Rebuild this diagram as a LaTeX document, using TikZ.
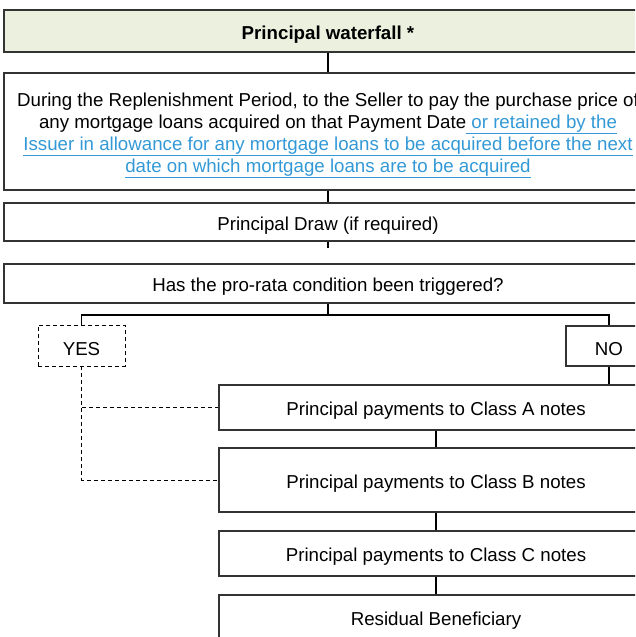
\documentclass[tikz,border=0pt]{standalone}
\usepackage{fontspec}
\setmainfont{Liberation Sans}
\usetikzlibrary{positioning}
\definecolor{headfill}{RGB}{235,241,222}
\definecolor{linkblue}{RGB}{51,153,214}
\definecolor{boxline}{RGB}{51,51,51}
\newcommand{\linktext}[1]{\textcolor{linkblue}{\setbox0\hbox{#1}\rlap{\rule[-5.2pt]{\wd0}{1.3pt}}\box0}}

\begin{document}
\begin{tikzpicture}[x=1pt, y=-1pt, inner sep=0pt,
   box/.style={draw=boxline, line width=1.1pt, minimum width=648pt, align=center,
     font=\fontsize{18.7}{22}\selectfont, execute at begin node={\rule{0pt}{20pt}}},
   head/.style={box, fill=headfill, font=\fontsize{18.7}{22}\selectfont\bfseries},
   pay/.style={box, minimum width=434pt},
   choice/.style={box, minimum width=87pt, minimum height=41pt},
   conn/.style={draw=black, line width=1.1pt},
   heavy/.style={conn, line width=1.8pt},
   maybe/.style={draw=black, line width=0.9pt, dash pattern=on 4pt off 3pt}
   ]
   \useasboundingbox (0,0) rectangle (635,637);
   \clip (0,0) rectangle (635,637);

   \node[head, minimum height=42pt] (T) at (328,31) {Principal waterfall *};
   \node[box, minimum height=117pt] (D) at (328,131.5)
     {\rule{0pt}{22pt}During the Replenishment Period, to the Seller to pay the purchase price of\\
      any mortgage loans acquired on that Payment Date\linktext{\ or retained by the}\\
      \linktext{Issuer in allowance for any mortgage loans to be acquired before the next}\\
      \linktext{date on which mortgage loans are to be acquired}};
   \node[box, minimum height=38pt] (P) at (328,222) {Principal Draw (if required)};
   \node[box, minimum height=39pt] (Q) at (328,283.5) {Has the pro-rata condition been triggered?};

   \node[choice, maybe] (Y) at (81.5,345.5) {YES};
   \node[choice, minimum width=86pt, minimum height=40pt] (N) at (609,346) {NO};

   \node[pay, minimum height=45pt] (A) at (436,407.5) {Principal payments to Class A notes};
   \node[pay, minimum height=64pt] (B) at (436,480) {Principal payments to Class B notes};
   \node[pay, minimum height=45pt] (C) at (436,553.5) {Principal payments to Class C notes};
   \node[pay, minimum height=45pt] (R) at (436,617.5) {Residual Beneficiary};

   \coordinate (stub) at (328,248);
   \coordinate (split) at (328,315);

   \draw[heavy] (T) -- (D);
   \draw[heavy] (D) -- (P);
   \draw[heavy] (P) -- (stub);
   \draw[conn] (Q) -- (split);
   \draw[conn] (Y.north) |- (split) -| (N.north);
   \draw[heavy] (N.south) -- (N.south |- A.north);
   \draw[maybe] (Y.south) |- (A.west);
   \draw[maybe] (Y.south) |- (B.west);
   \draw[conn] (A) -- (B);
   \draw[conn] (B) -- (C);
   \draw[conn] (C) -- (R);
\end{tikzpicture}
\end{document}
